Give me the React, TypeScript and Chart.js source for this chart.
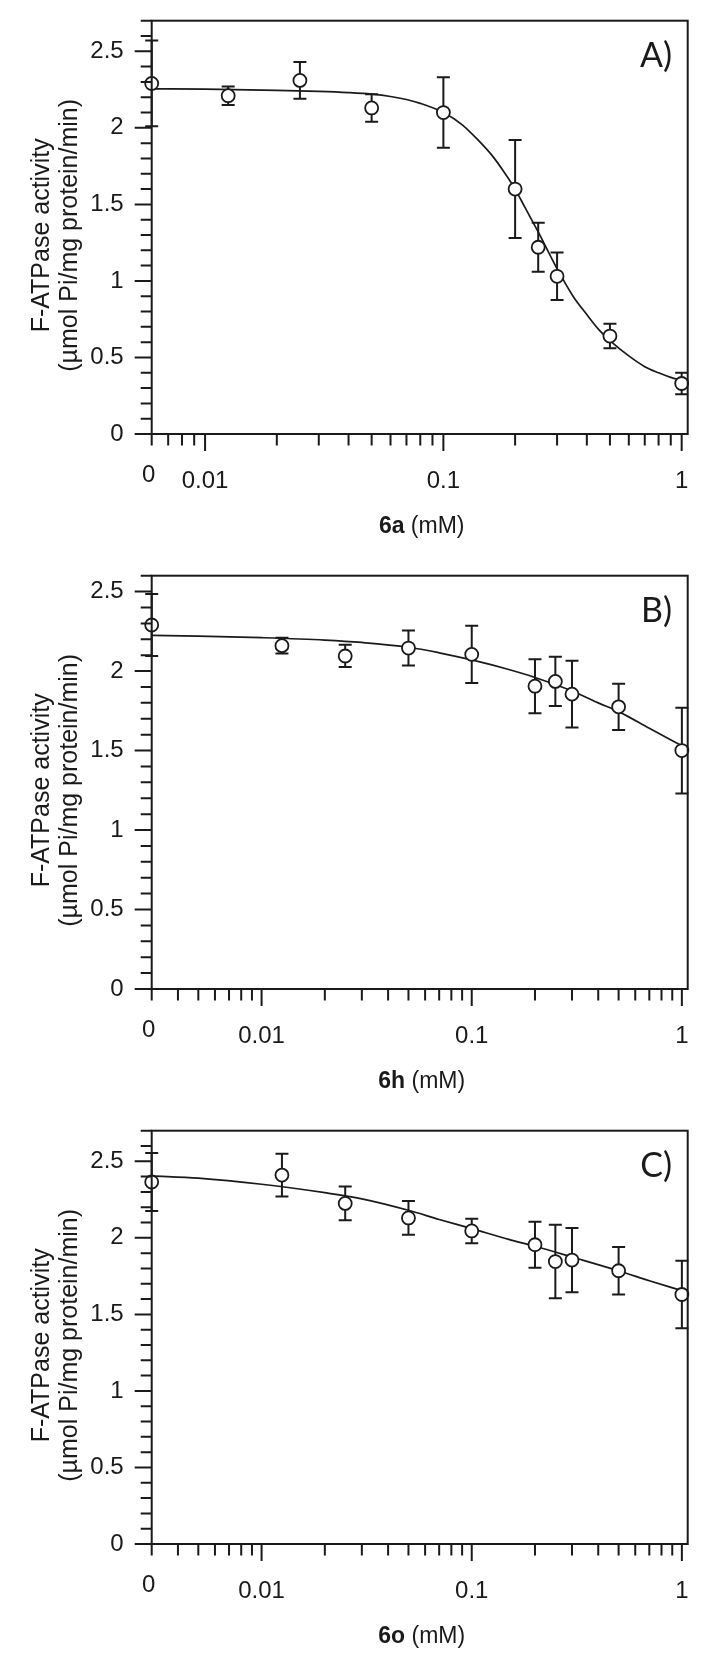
import React, { useEffect, useRef } from 'react';
import { Chart, registerables } from 'chart.js';

Chart.register(...registerables);

// ---------- data ----------
// inhibitor concentration (mM); 0 is drawn at the left end of the log axis
const CONC = [0, 0.0125, 0.025, 0.05, 0.1, 0.2, 0.25, 0.3, 0.5, 1];

const A_MEAN = [2.29, 2.21, 2.31, 2.13, 2.1, 1.6, 1.22, 1.03, 0.64, 0.33];
const A_ERR = [0.28, 0.06, 0.12, 0.09, 0.23, 0.32, 0.16, 0.155, 0.08, 0.07];
const B_MEAN = [2.29, 2.16, 2.095, 2.145, 2.105, 1.905, 1.935, 1.855, 1.775, 1.5];
const B_ERR = [0.195, 0.05, 0.07, 0.11, 0.18, 0.17, 0.155, 0.21, 0.145, 0.27];
const C_MEAN = [2.365, 2.41, 2.225, 2.13, 2.045, 1.955, 1.845, 1.855, 1.785, 1.63];
const C_ERR = [0.19, 0.14, 0.11, 0.11, 0.08, 0.15, 0.24, 0.21, 0.155, 0.22];

// fitted curves
const A_CURVE_X = [0, 0.01, 0.02, 0.03, 0.04, 0.05, 0.06, 0.07, 0.08, 0.1, 0.12, 0.14, 0.16, 0.18, 0.2, 0.22, 0.25, 0.28, 0.3, 0.35, 0.4, 0.45, 0.5, 0.6, 0.7, 0.8, 0.9, 1];
const A_CURVE_Y = [2.255, 2.253, 2.245, 2.238, 2.23, 2.22, 2.205, 2.185, 2.16, 2.1, 2.02, 1.92, 1.82, 1.71, 1.6, 1.48, 1.32, 1.17, 1.08, 0.9, 0.78, 0.68, 0.61, 0.51, 0.44, 0.4, 0.37, 0.35];
const B_CURVE_X = [0, 0.005, 0.01, 0.02, 0.03, 0.05, 0.07, 0.1, 0.15, 0.2, 0.3, 0.4, 0.5, 0.7, 1];
const B_CURVE_Y = [2.225, 2.22, 2.21, 2.195, 2.18, 2.15, 2.115, 2.07, 2.01, 1.96, 1.875, 1.8, 1.745, 1.64, 1.53];
const C_CURVE_X = [0, 0.005, 0.01, 0.02, 0.03, 0.05, 0.07, 0.1, 0.15, 0.2, 0.3, 0.5, 0.7, 1];
const C_CURVE_Y = [2.405, 2.39, 2.35, 2.295, 2.255, 2.18, 2.12, 2.06, 1.99, 1.945, 1.875, 1.785, 1.72, 1.655];

// ---------- axis ticks ----------
const X_ZERO_LABEL = '0';
const X_LABEL_VALUES = [0.01, 0.1, 1];
const X_LABEL_TEXT = ['0.01', '0.1', '1'];
const X_MINOR_A = [0.007, 0.008, 0.009, 0.02, 0.03, 0.04, 0.05, 0.06, 0.07, 0.08, 0.09, 0.2, 0.3, 0.4, 0.5, 0.6, 0.7, 0.8, 0.9];
const X_MINOR_BC = [0.004, 0.005, 0.006, 0.007, 0.008, 0.009, 0.02, 0.03, 0.04, 0.05, 0.06, 0.07, 0.08, 0.09, 0.2, 0.3, 0.4, 0.5, 0.6, 0.7, 0.8, 0.9];
const Y_LABEL_VALUES = [0, 0.5, 1, 1.5, 2, 2.5];
const Y_MINOR_27 = [0.1, 0.2, 0.3, 0.4, 0.6, 0.7, 0.8, 0.9, 1.1, 1.2, 1.3, 1.4, 1.6, 1.7, 1.8, 1.9, 2.1, 2.2, 2.3, 2.4, 2.6, 2.7];
const Y_MINOR_26 = [0.1, 0.2, 0.3, 0.4, 0.6, 0.7, 0.8, 0.9, 1.1, 1.2, 1.3, 1.4, 1.6, 1.7, 1.8, 1.9, 2.1, 2.2, 2.3, 2.4, 2.6];

const Y_TITLE_1 = 'F-ATPase activity';
const Y_TITLE_2 = '(µmol Pi/mg protein/min)';

type Panel = {
  letter: string;
  compound: string;
  mean: number[];
  err: number[];
  curveX: number[];
  curveY: number[];
  xMin: number;
  xMax: number;
  yMax: number;
  xMinor: number[];
  yMinor: number[];
  height: number;
  top: number;
};

const PANELS: Panel[] = [
  { letter: 'A)', compound: '6a', mean: A_MEAN, err: A_ERR, curveX: A_CURVE_X, curveY: A_CURVE_Y, xMin: 0.00597, xMax: 1.06, yMax: 2.7, xMinor: X_MINOR_A, yMinor: Y_MINOR_27, height: 555, top: 0 },
  { letter: 'B)', compound: '6h', mean: B_MEAN, err: B_ERR, curveX: B_CURVE_X, curveY: B_CURVE_Y, xMin: 0.003, xMax: 1.066, yMax: 2.6, xMinor: X_MINOR_BC, yMinor: Y_MINOR_26, height: 555, top: 555 },
  { letter: 'C)', compound: '6o', mean: C_MEAN, err: C_ERR, curveX: C_CURVE_X, curveY: C_CURVE_Y, xMin: 0.003, xMax: 1.066, yMax: 2.7, xMinor: X_MINOR_BC, yMinor: Y_MINOR_27, height: 548, top: 1110 },
];

const SANS = '"Liberation Sans", Arial, sans-serif';
const INK = '#1a1a1a';
const PLOT_LEFT = 151.7;
const PLOT_RIGHT = 687.7;
const PLOT_TOP = 20.7;
const PLOT_BOTTOM = 434;

function makePlugin(p: Panel) {
  const toX = (v: number) => (v === 0 ? p.xMin : v);
  return {
    id: 'panelDecor',
    beforeDatasetsDraw(chart: any) {
      const { ctx } = chart;
      const xs = chart.scales.x;
      const ys = chart.scales.y;
      ctx.save();
      ctx.strokeStyle = INK;
      ctx.lineWidth = 2;
      CONC.forEach((c, i) => {
        const px = xs.getPixelForValue(toX(c));
        const y1 = ys.getPixelForValue(p.mean[i] + p.err[i]);
        const y0 = ys.getPixelForValue(p.mean[i] - p.err[i]);
        ctx.beginPath();
        ctx.moveTo(px, y1);
        ctx.lineTo(px, y0);
        ctx.moveTo(px - 6.5, y1);
        ctx.lineTo(px + 6.5, y1);
        ctx.moveTo(px - 6.5, y0);
        ctx.lineTo(px + 6.5, y0);
        ctx.stroke();
      });
      ctx.restore();
    },
    afterDraw(chart: any) {
      const { ctx, chartArea } = chart;
      const { left, right, top, bottom } = chartArea;
      const xs = chart.scales.x;
      const ys = chart.scales.y;
      ctx.save();
      ctx.strokeStyle = INK;
      ctx.lineWidth = 2;
      ctx.strokeRect(left, top, right - left, bottom - top);
      ctx.beginPath();
      // x ticks
      const xMinorAll = [p.xMin, ...p.xMinor];
      xMinorAll.forEach((v) => {
        const px = xs.getPixelForValue(v);
        ctx.moveTo(px, bottom);
        ctx.lineTo(px, bottom + 11.5);
      });
      X_LABEL_VALUES.forEach((v) => {
        const px = xs.getPixelForValue(v);
        ctx.moveTo(px, bottom);
        ctx.lineTo(px, bottom + 17);
      });
      // y ticks
      p.yMinor.forEach((v) => {
        const py = ys.getPixelForValue(v);
        ctx.moveTo(left, py);
        ctx.lineTo(left - 11, py);
      });
      Y_LABEL_VALUES.forEach((v) => {
        const py = ys.getPixelForValue(v);
        ctx.moveTo(left, py);
        ctx.lineTo(left - 17, py);
      });
      ctx.stroke();

      ctx.fillStyle = INK;

      // "0" label of the log axis (sits slightly higher than the others)
      ctx.font = `24px ${SANS}`;
      ctx.textAlign = 'center';
      ctx.textBaseline = 'alphabetic';
      ctx.fillText(X_ZERO_LABEL, xs.getPixelForValue(p.xMin) - 3, bottom + 48);

      // panel letter
      ctx.font = '34px Lato, "Open Sans", sans-serif';
      ctx.textAlign = 'right';
      ctx.textBaseline = 'alphabetic';
      ctx.fillText(p.letter, 672, top + 46);

      // y title (two lines)
      const cy = (top + bottom) / 2 + 8;
      ctx.font = `25px ${SANS}`;
      ctx.textAlign = 'center';
      ctx.textBaseline = 'middle';
      ctx.save();
      ctx.translate(42, cy);
      ctx.rotate(-Math.PI / 2);
      ctx.fillText(Y_TITLE_1, 0, 0);
      ctx.restore();
      ctx.save();
      ctx.translate(70, cy);
      ctx.rotate(-Math.PI / 2);
      ctx.fillText(Y_TITLE_2, 0, 0);
      ctx.restore();

      // x title: bold compound + (mM)
      const boldFont = `bold 23px ${SANS}`;
      const regFont = `23px ${SANS}`;
      ctx.font = boldFont;
      const w1 = ctx.measureText(p.compound).width;
      ctx.font = regFont;
      const rest = ' (mM)';
      const w2 = ctx.measureText(rest).width;
      const cx = (left + right) / 2 + 2;
      const x0 = cx - (w1 + w2) / 2;
      ctx.textAlign = 'left';
      ctx.textBaseline = 'alphabetic';
      ctx.font = boldFont;
      ctx.fillText(p.compound, x0, bottom + 99);
      ctx.font = regFont;
      ctx.fillText(rest, x0 + w1, bottom + 99);
      ctx.restore();
    },
  };
}

function PanelChart({ p }: { p: Panel }) {
  const ref = useRef<HTMLCanvasElement>(null);
  useEffect(() => {
    const canvas = ref.current;
    if (!canvas) return;
    const toX = (v: number) => (v === 0 ? p.xMin : v);
    const chart = new Chart(canvas, {
      type: 'line',
      data: {
        datasets: [
          {
            data: CONC.map((c, i) => ({ x: toX(c), y: p.mean[i] })),
            showLine: false,
            pointRadius: 6.5,
            pointBorderWidth: 1.8,
            pointBackgroundColor: '#ffffff',
            pointBorderColor: INK,
            borderColor: INK,
            clip: false,
          } as any,
          {
            data: p.curveX.map((c, i) => ({ x: toX(c), y: p.curveY[i] })),
            borderColor: INK,
            borderWidth: 1.7,
            pointRadius: 0,
            cubicInterpolationMode: 'monotone',
            fill: false,
            clip: false,
          } as any,
        ],
      },
      options: {
        responsive: false,
        animation: false,
        events: [],
        layout: { padding: { top: PLOT_TOP, right: 708 - PLOT_RIGHT, left: 0, bottom: 0 } },
        plugins: { legend: { display: false }, tooltip: { enabled: false } },
        scales: {
          x: {
            type: 'logarithmic',
            min: p.xMin,
            max: p.xMax,
            grid: { display: false, drawTicks: false },
            border: { display: false },
            afterBuildTicks: (s: any) => {
              s.ticks = X_LABEL_VALUES.map((v) => ({ value: v }));
            },
            afterFit: (s: any) => {
              s.height = p.height - PLOT_BOTTOM;
              s.paddingLeft = 0;
              s.paddingRight = 0;
              s.paddingTop = 0;
              s.paddingBottom = 0;
            },
            ticks: {
              autoSkip: false,
              maxRotation: 0,
              minRotation: 0,
              padding: 33,
              color: INK,
              font: { family: SANS, size: 24 },
              callback: (v: any) => {
                const val = Number(v);
                const k = X_LABEL_VALUES.findIndex((t) => Math.abs(t - val) < 1e-9);
                return k >= 0 ? X_LABEL_TEXT[k] : '';
              },
            },
          },
          y: {
            type: 'linear',
            min: 0,
            max: p.yMax,
            grid: { display: false, drawTicks: false },
            border: { display: false },
            afterBuildTicks: (s: any) => {
              s.ticks = Y_LABEL_VALUES.map((v) => ({ value: v }));
            },
            afterFit: (s: any) => {
              s.width = PLOT_LEFT;
              s.paddingLeft = 0;
              s.paddingRight = 0;
              s.paddingTop = 0;
              s.paddingBottom = 0;
            },
            ticks: {
              padding: 28,
              color: INK,
              font: { family: SANS, size: 24 },
              callback: (v: any) => String(Number(v)),
            },
          },
        },
      } as any,
      plugins: [makePlugin(p)],
    });
    return () => chart.destroy();
  }, [p]);
  return (
    <canvas
      ref={ref}
      width={708}
      height={p.height}
      style={{ position: 'absolute', left: 0, top: p.top, width: 708, height: p.height }}
    />
  );
}

export default function App() {
  return (
    <div style={{ position: 'absolute', left: 0, top: 0, width: 708, height: 1658, background: '#ffffff' }}>
      {PANELS.map((p) => (
        <PanelChart key={p.letter} p={p} />
      ))}
    </div>
  );
}
